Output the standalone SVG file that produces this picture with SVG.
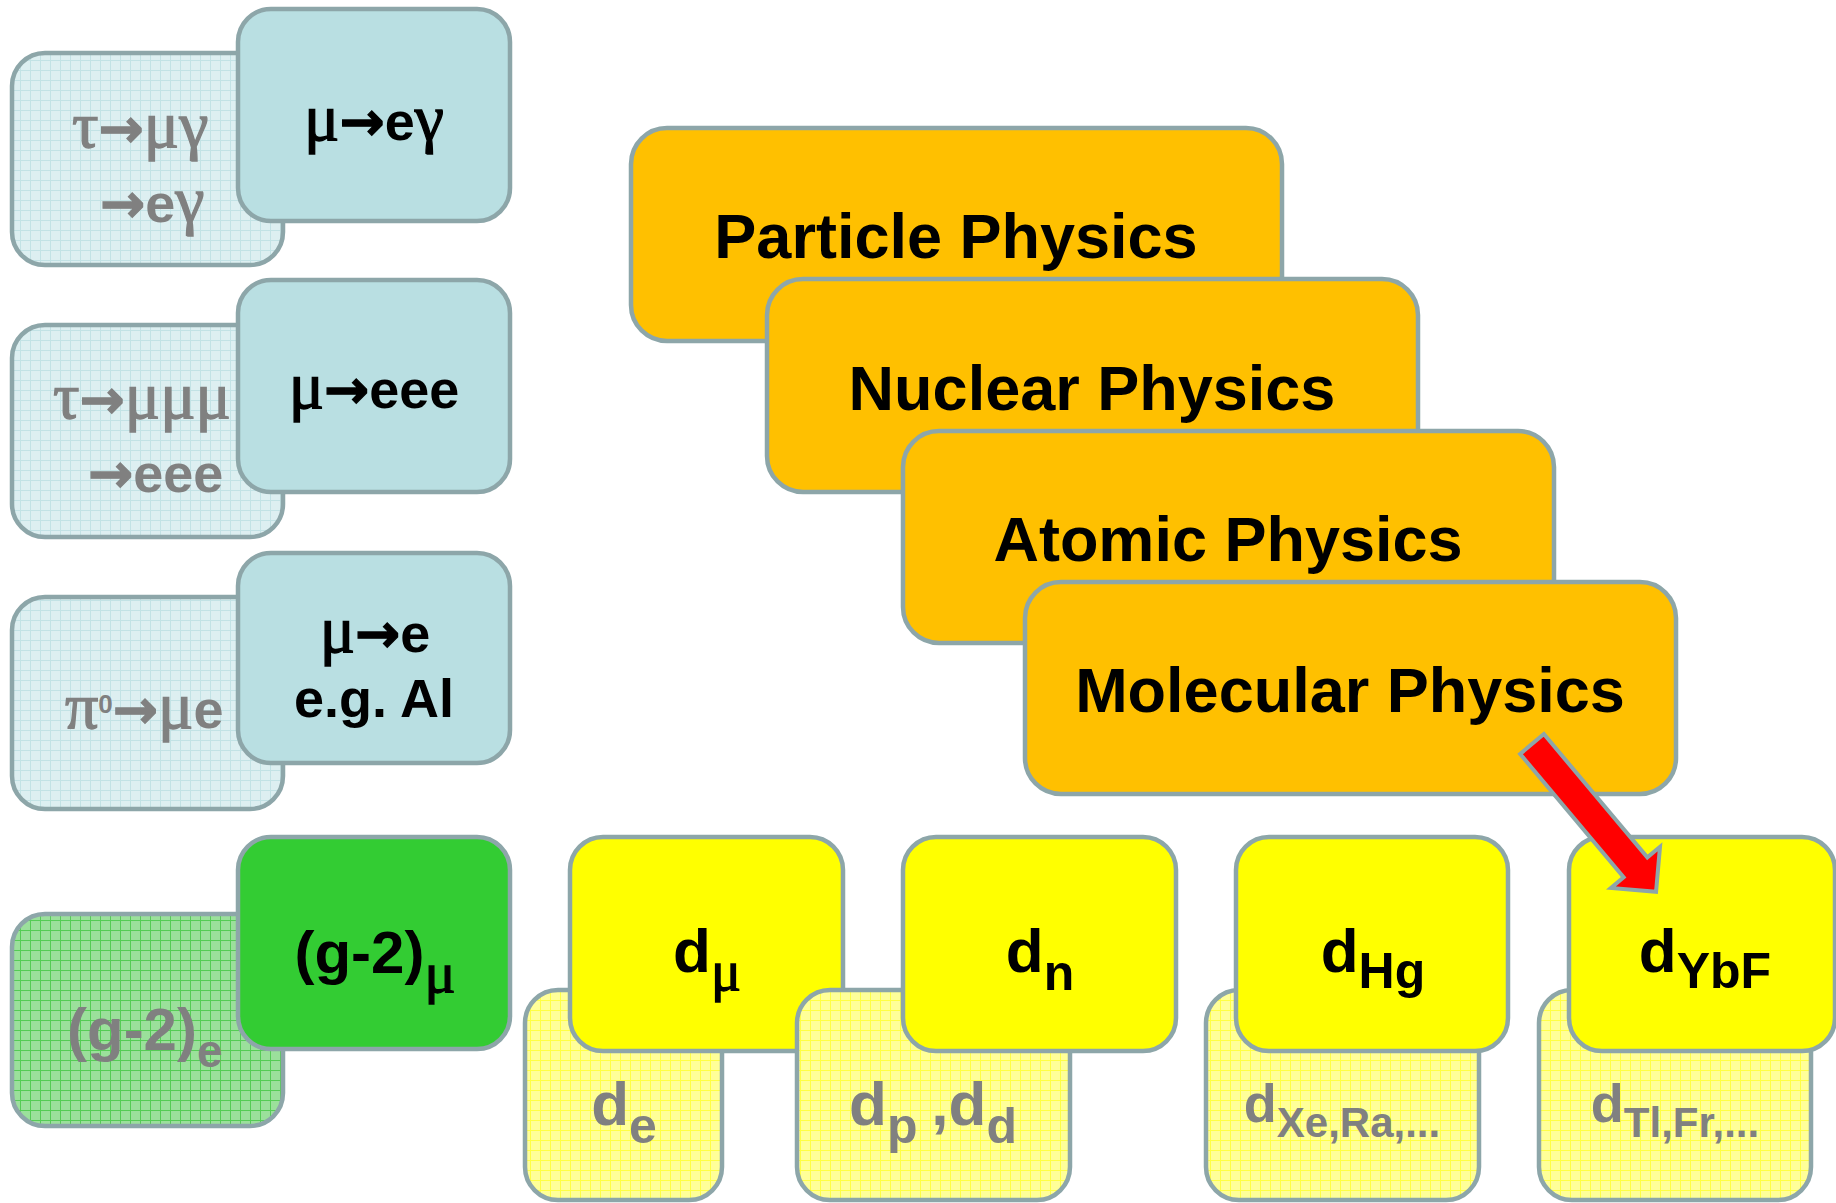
<svg xmlns="http://www.w3.org/2000/svg" width="1836" height="1203" viewBox="0 0 1836 1203">
<style>
.box{stroke:#8DA6A9;stroke-width:4.5}
.orange{fill:#FFC000}
.yel{fill:#FFFF00}
.yelb{fill:url(#gridY)}
.blue{fill:#B9DFE2}
.blueb{fill:url(#gridB)}
.grn{fill:#33CC33}
.grnb{fill:url(#gridG)}
.lbl{font-family:"Liberation Sans",Arial,sans-serif;font-weight:bold}
.gr{font-family:"Liberation Serif","Times New Roman",serif;font-weight:normal;stroke-width:1.3}
.ar{font-family:"DejaVu Sans",sans-serif;font-weight:bold;stroke-width:1.2}
.blk{fill:#000000}
.blk .gr,.blk .ar{stroke:#000000}
.gry{fill:#808080}
.gry .gr,.gry .ar{stroke:#808080}
.arrow{fill:#FF0000;stroke:#8DA6A9;stroke-width:4;stroke-linejoin:miter}
</style>
<defs>
<pattern id="gridB" width="10" height="10" patternUnits="userSpaceOnUse"><rect width="10" height="10" fill="#DDEFF1"/><path d="M0 0.5H10M0.5 0V10" stroke="#C2E2E5" stroke-width="1"/></pattern>
<pattern id="gridG" width="10" height="10" patternUnits="userSpaceOnUse"><rect width="10" height="10" fill="#9BE09B"/><path d="M0 0.5H10M0.5 0V10" stroke="#55CC55" stroke-width="1"/></pattern>
<pattern id="gridY" width="10" height="10" patternUnits="userSpaceOnUse"><rect width="10" height="10" fill="#FFFF99"/><path d="M0 0.5H10M0.5 0V10" stroke="#FFFF44" stroke-width="1"/></pattern>
</defs>
<rect width="1836" height="1203" fill="#FFFFFF"/>

<!-- left column -->
<g id="node-tau-mugamma">
<rect class="box blueb" x="12" y="53" width="271" height="212" rx="33"/>
<text class="lbl gry" x="72" y="147" font-size="54"><tspan class="gr" font-size="66">τ</tspan><tspan class="ar" font-size="54">→</tspan><tspan class="gr" font-size="66">μγ</tspan></text>
<text class="lbl gry" x="100" y="222" font-size="54"><tspan class="ar" font-size="54">→</tspan>e<tspan class="gr" font-size="66">γ</tspan></text>
</g>
<g id="node-mu-egamma">
<rect class="box blue" x="238" y="9" width="272" height="212" rx="33"/>
<text class="lbl blk" x="374" y="140" font-size="54" text-anchor="middle"><tspan class="gr" font-size="66">μ</tspan><tspan class="ar" font-size="54">→</tspan>e<tspan class="gr" font-size="66">γ</tspan></text>
</g>

<g id="node-tau-mumumu">
<rect class="box blueb" x="12" y="325" width="271" height="212" rx="33"/>
<text class="lbl gry" x="53" y="418" font-size="54"><tspan class="gr" font-size="66">τ</tspan><tspan class="ar" font-size="54">→</tspan><tspan class="gr" font-size="66">μμμ</tspan></text>
<text class="lbl gry" x="88" y="492" font-size="54"><tspan class="ar" font-size="54">→</tspan>eee</text>
</g>
<g id="node-mu-eee">
<rect class="box blue" x="238" y="280" width="272" height="212" rx="33"/>
<text class="lbl blk" x="374" y="408" font-size="54" text-anchor="middle"><tspan class="gr" font-size="66">μ</tspan><tspan class="ar" font-size="54">→</tspan>eee</text>
</g>

<g id="node-pi0-mue">
<rect class="box blueb" x="12" y="597" width="271" height="212" rx="33"/>
<text class="lbl gry" x="65" y="728" font-size="54"><tspan class="gr" font-size="66">π</tspan><tspan font-size="26" dy="-15">0</tspan><tspan class="ar" font-size="54" dy="15">→</tspan><tspan class="gr" font-size="66">μ</tspan>e</text>
</g>
<g id="node-mu-e-al">
<rect class="box blue" x="238" y="553" width="272" height="210" rx="33"/>
<text class="lbl blk" x="375" y="652" font-size="54" text-anchor="middle"><tspan class="gr" font-size="66">μ</tspan><tspan class="ar" font-size="54">→</tspan>e</text>
<text class="lbl blk" x="374" y="717" font-size="54" text-anchor="middle">e.g. Al</text>
</g>

<g id="node-g2e">
<rect class="box grnb" x="12" y="914" width="271" height="212" rx="33"/>
<text class="lbl gry" x="67" y="1050" font-size="60">(g-2)<tspan font-size="46" dy="17">e</tspan></text>
</g>
<g id="node-g2mu">
<rect class="box grn" x="238" y="837" width="272" height="212" rx="33"/>
<text class="lbl blk" x="375" y="973" font-size="60" text-anchor="middle">(g-2)<tspan class="gr" font-size="58" dy="19">μ</tspan></text>
</g>

<!-- orange stack -->
<g id="node-particle">
<rect class="box orange" x="631" y="128" width="651" height="213" rx="36"/>
<text class="lbl blk" x="956" y="258" font-size="63" text-anchor="middle">Particle Physics</text>
</g>
<g id="node-nuclear">
<rect class="box orange" x="767" y="279" width="651" height="213" rx="36"/>
<text class="lbl blk" x="1092" y="410" font-size="63" text-anchor="middle">Nuclear Physics</text>
</g>
<g id="node-atomic">
<rect class="box orange" x="903" y="431" width="651" height="212" rx="36"/>
<text class="lbl blk" x="1228" y="561" font-size="63" text-anchor="middle">Atomic Physics</text>
</g>
<g id="node-molecular">
<rect class="box orange" x="1025" y="582" width="651" height="212" rx="36"/>
<text class="lbl blk" x="1350" y="712" font-size="63" text-anchor="middle">Molecular Physics</text>
</g>

<!-- yellow row -->
<g id="node-de">
<rect class="box yelb" x="525" y="990" width="197" height="210" rx="33"/>
<text class="lbl gry" x="624" y="1125" font-size="62" text-anchor="middle">d<tspan font-size="50" dy="18">e</tspan></text>
</g>
<g id="node-dmu">
<rect class="box yel" x="570" y="837" width="273" height="214" rx="33"/>
<text class="lbl blk" x="707" y="972" font-size="62" text-anchor="middle">d<tspan class="gr" font-size="56" dy="18">μ</tspan></text>
</g>

<g id="node-dp-dd">
<rect class="box yelb" x="797" y="990" width="273" height="210" rx="33"/>
<text class="lbl gry" x="933" y="1125" font-size="62" text-anchor="middle">d<tspan font-size="50" dy="18">p </tspan><tspan dy="-18">,d</tspan><tspan font-size="50" dy="18">d</tspan></text>
</g>
<g id="node-dn">
<rect class="box yel" x="903" y="837" width="273" height="214" rx="33"/>
<text class="lbl blk" x="1040" y="972" font-size="62" text-anchor="middle">d<tspan font-size="50" dy="18">n</tspan></text>
</g>

<g id="node-dxe">
<rect class="box yelb" x="1206" y="990" width="273" height="210" rx="33"/>
<text class="lbl gry" x="1342" y="1122" font-size="54" text-anchor="middle">d<tspan font-size="42" dy="15">Xe,Ra,...</tspan></text>
</g>
<g id="node-dhg">
<rect class="box yel" x="1236" y="837" width="272" height="214" rx="33"/>
<text class="lbl blk" x="1373" y="972" font-size="62" text-anchor="middle">d<tspan font-size="50" dy="16">Hg</tspan></text>
</g>

<g id="node-dtl">
<rect class="box yelb" x="1539" y="990" width="272" height="210" rx="33"/>
<text class="lbl gry" x="1675" y="1122" font-size="54" text-anchor="middle">d<tspan font-size="42" dy="15">Tl,Fr,...</tspan></text>
</g>
<g id="node-dybf">
<rect class="box yel" x="1569" y="837" width="266" height="214" rx="33"/>
<text class="lbl blk" x="1705" y="972" font-size="62" text-anchor="middle">d<tspan font-size="50" dy="16">YbF</tspan></text>
</g>

<!-- connectors -->
<g id="connectors">
<polygon class="arrow" transform="translate(1532,744) rotate(50)" points="0,-15.5 161,-15.5 161,-32 193,0 161,32 161,15.5 0,15.5"/>
</g>
</svg>
